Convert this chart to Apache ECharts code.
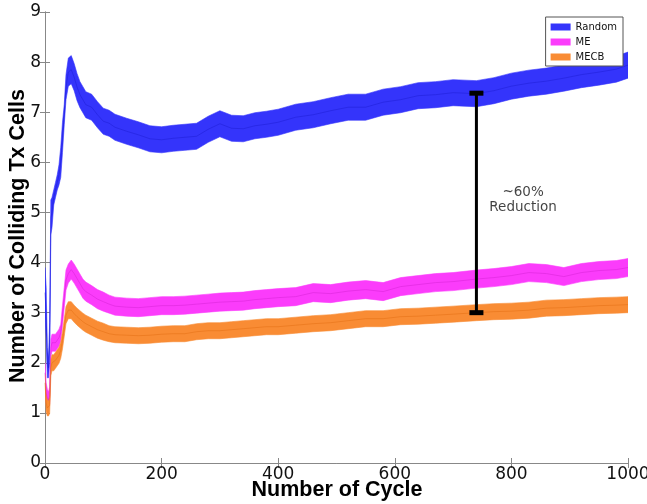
<!DOCTYPE html>
<html>
<head>
<meta charset="utf-8">
<script src="https://cdn.jsdelivr.net/npm/echarts@6/dist/echarts.min.js"></script>
<style>
  html, body { margin: 0; padding: 0; background: #fff; }
  #chart { width: 647px; height: 504px; }
</style>
</head>
<body>
<div id="chart"></div>
<script>
const cycles = [0, 2, 4, 6, 8, 10, 12, 15, 18, 21, 24, 27, 30, 33, 36, 40, 45, 50, 55, 60, 65, 70, 80, 90, 100,
  110, 120, 140, 160, 180, 200, 220, 240, 260, 280, 300, 320, 340, 360, 380, 400, 430, 460, 490, 520, 550,
  580, 610, 640, 670, 700, 740, 770, 800, 830, 860, 890, 920, 950, 980, 1000]

const randomMean = [3.4, 3.0, 2.0, 1.9, 2.4, 4.9, 5.0, 5.3, 5.45, 5.6, 5.75, 6.0, 6.5, 6.95, 7.5, 7.8, 7.85, 7.7, 7.5, 7.35, 7.25, 7.15, 7.1, 6.95, 6.82,
  6.78, 6.7, 6.62, 6.55, 6.47, 6.45, 6.48, 6.5, 6.52, 6.66, 6.77, 6.68, 6.67, 6.73, 6.76, 6.8, 6.9, 6.95, 7.03, 7.1, 7.1,
  7.2, 7.25, 7.33, 7.35, 7.39, 7.37, 7.43, 7.52, 7.58, 7.62, 7.68, 7.75, 7.8, 7.86, 7.94]
const randomErr = [0.5, 0.5, 0.3, 0.2, 0.4, 0.35, 0.3, 0.15, 0.15, 0.15, 0.2, 0.3, 0.3, 0.2, 0.25, 0.28, 0.28, 0.27, 0.27, 0.26, 0.26, 0.26, 0.26, 0.26, 0.26,
  0.26, 0.26, 0.26, 0.26, 0.26, 0.26, 0.26, 0.26, 0.26, 0.26, 0.26, 0.26, 0.26, 0.26, 0.26, 0.26, 0.26, 0.26, 0.26, 0.26, 0.26,
  0.26, 0.26, 0.26, 0.26, 0.26, 0.26, 0.26, 0.26, 0.26, 0.26, 0.26, 0.26, 0.26, 0.26, 0.26]

const meMean = [1.8, 1.4, 1.3, 1.25, 1.35, 2.3, 2.4, 2.4, 2.4, 2.45, 2.5, 2.6, 2.95, 3.3, 3.65, 3.78, 3.86, 3.78, 3.68, 3.58, 3.48, 3.42, 3.35, 3.27, 3.22,
  3.17, 3.13, 3.11, 3.1, 3.12, 3.14, 3.14, 3.15, 3.17, 3.19, 3.21, 3.22, 3.23, 3.26, 3.28, 3.3, 3.32, 3.4, 3.38, 3.43, 3.46,
  3.42, 3.52, 3.56, 3.6, 3.62, 3.67, 3.7, 3.74, 3.8, 3.78, 3.72, 3.8, 3.84, 3.86, 3.9]
const meErr = [0.2, 0.2, 0.17, 0.17, 0.17, 0.17, 0.17, 0.17, 0.17, 0.17, 0.17, 0.17, 0.2, 0.2, 0.2, 0.19, 0.19, 0.19, 0.19, 0.19, 0.19, 0.19, 0.19, 0.19, 0.19,
  0.18, 0.18, 0.18, 0.18, 0.18, 0.18, 0.18, 0.18, 0.18, 0.18, 0.18, 0.18, 0.18, 0.18, 0.18, 0.18, 0.18, 0.18, 0.18, 0.18, 0.18,
  0.18, 0.18, 0.18, 0.18, 0.18, 0.18, 0.18, 0.18, 0.18, 0.18, 0.18, 0.18, 0.18, 0.18, 0.18]

const mecbMean = [1.6, 1.2, 1.1, 1.1, 1.15, 1.9, 2.0, 2.0, 2.05, 2.1, 2.15, 2.25, 2.45, 2.7, 2.95, 3.05, 3.05, 2.98, 2.92, 2.87, 2.82, 2.78, 2.72, 2.66, 2.62,
  2.58, 2.56, 2.55, 2.54, 2.55, 2.57, 2.58, 2.58, 2.62, 2.64, 2.64, 2.66, 2.68, 2.7, 2.72, 2.72, 2.75, 2.78, 2.8, 2.84, 2.88,
  2.88, 2.92, 2.93, 2.95, 2.97, 3.0, 3.02, 3.03, 3.05, 3.09, 3.1, 3.12, 3.14, 3.15, 3.16]
const mecbErr = [0.17, 0.17, 0.16, 0.16, 0.16, 0.16, 0.16, 0.16, 0.16, 0.16, 0.16, 0.16, 0.17, 0.17, 0.17, 0.17, 0.17, 0.17, 0.17, 0.17, 0.17, 0.17, 0.17, 0.17, 0.17,
  0.16, 0.16, 0.16, 0.16, 0.16, 0.16, 0.16, 0.16, 0.16, 0.16, 0.16, 0.16, 0.16, 0.16, 0.16, 0.16, 0.16, 0.16, 0.16, 0.16, 0.16,
  0.16, 0.16, 0.16, 0.16, 0.16, 0.16, 0.16, 0.16, 0.16, 0.16, 0.16, 0.16, 0.16, 0.16, 0.16]

// annotation: reduction bar and its label
const reductionX = 740
const reductionLow = 3.0
const reductionHigh = 7.38
const reductionText = '~60%\nReduction'
const reductionTextPos = [820, 5.25]

const xTitle = 'Number of Cycle'
const yTitle = 'Number of Colliding Tx Cells'

const font = 'DejaVu Sans'
const titleFont = 'bold 21.5px "Liberation Sans"'

// error band as one polygon (upper edge, then lower edge back)
const bandSeries = (name, mean, err, color, lineColor) => {
  const data = cycles.map((c, i) => [c, +(mean[i] - err[i]).toFixed(3), +(mean[i] + err[i]).toFixed(3)])
  return [
    {
      name,
      type: 'custom',
      data,
      encode: { x: 0, y: [1, 2] },
      itemStyle: { color },
      clip: true,
      z: 2,
      renderItem: (params, api) => {
        if (params.dataIndex !== 0) return null
        const upper = data.map(d => api.coord([d[0], d[2]]))
        const lower = data.map(d => api.coord([d[0], d[1]])).reverse()
        return {
          type: 'polygon',
          shape: { points: upper.concat(lower) },
          style: { fill: color, stroke: color, lineWidth: 0.6 }
        }
      }
    },
    {
      name: name + '_mean',
      type: 'line',
      data: cycles.map((c, i) => [c, mean[i]]),
      symbol: 'none',
      lineStyle: { width: 1, color: lineColor, opacity: 0.45 },
      z: 3
    }
  ]
}

const handleGetOption = () => {
  const frame = { show: true, lineStyle: { color: '#888', width: 1 } }
  const ticks = { show: true, inside: true, length: 5, lineStyle: { color: '#888' } }
  const labels = { fontFamily: font, fontSize: 17, color: '#111', hideOverlap: false }
  return {
    animation: false,
    backgroundColor: '#fff',
    grid: { left: 45, right: 19, top: 12, bottom: 41, containLabel: false, outerBoundsMode: 'none' },
    // axis titles as plain text, so they never knock out tick labels
    graphic: [
      {
        type: 'text',
        x: 337,
        y: 490,
        style: { text: xTitle, textAlign: 'center', textVerticalAlign: 'middle', fill: '#000', font: titleFont }
      },
      {
        type: 'text',
        x: 18,
        y: 236,
        rotation: Math.PI / 2,
        style: { text: yTitle, textAlign: 'center', textVerticalAlign: 'middle', fill: '#000', font: titleFont }
      }
    ],
    legend: {
      data: ['Random', 'ME', 'MECB'],
      orient: 'vertical',
      right: 24,
      top: 17,
      icon: 'rect',
      itemWidth: 20,
      itemHeight: 7,
      itemGap: 5,
      padding: [5, 6, 4, 5],
      backgroundColor: '#fff',
      borderColor: '#555',
      borderWidth: 1,
      borderRadius: 0,
      textStyle: { fontFamily: font, fontSize: 10, color: '#111' }
    },
    xAxis: [
      {
        type: 'value',
        min: 0,
        max: 1000,
        interval: 200,
        axisLine: frame,
        axisTick: ticks,
        axisLabel: { ...labels, margin: 3, formatter: v => String(v) },
        splitLine: { show: false }
      },
      {
        type: 'value',
        position: 'top',
        min: 0,
        max: 1000,
        interval: 200,
        axisLine: frame,
        axisTick: ticks,
        axisLabel: { show: false },
        splitLine: { show: false }
      }
    ],
    yAxis: [
      {
        type: 'value',
        min: 0,
        max: 9,
        interval: 1,
        axisLine: frame,
        axisTick: ticks,
        axisLabel: { ...labels, margin: 4 },
        splitLine: { show: false }
      },
      {
        type: 'value',
        position: 'right',
        min: 0,
        max: 9,
        interval: 1,
        axisLine: frame,
        axisTick: ticks,
        axisLabel: { show: false },
        splitLine: { show: false }
      }
    ],
    series: [
      ...bandSeries('Random', randomMean, randomErr, '#3434fb', '#1a1ad0'),
      ...bandSeries('ME', meMean, meErr, '#fb3cfb', '#d020d0'),
      ...bandSeries('MECB', mecbMean, mecbErr, '#f98c34', '#e06a10'),
      {
        name: 'reduction',
        type: 'line',
        data: [[reductionX, reductionLow], [reductionX, reductionHigh]],
        symbol: 'rect',
        symbolSize: [14, 5],
        itemStyle: { color: '#000' },
        lineStyle: { color: '#000', width: 3 },
        z: 5
      },
      {
        name: 'reductionLabel',
        type: 'scatter',
        data: [reductionTextPos],
        symbolSize: 0,
        label: {
          show: true,
          position: 'inside',
          formatter: reductionText,
          fontFamily: font,
          fontSize: 13.5,
          lineHeight: 15,
          color: '#111',
          align: 'center'
        },
        z: 5
      }
    ]
  }
}

const myChart = echarts.init(document.querySelector('#chart'))
myChart.setOption(handleGetOption())
window.onresize = () => {
  myChart.resize()
}
</script>
</body>
</html>
